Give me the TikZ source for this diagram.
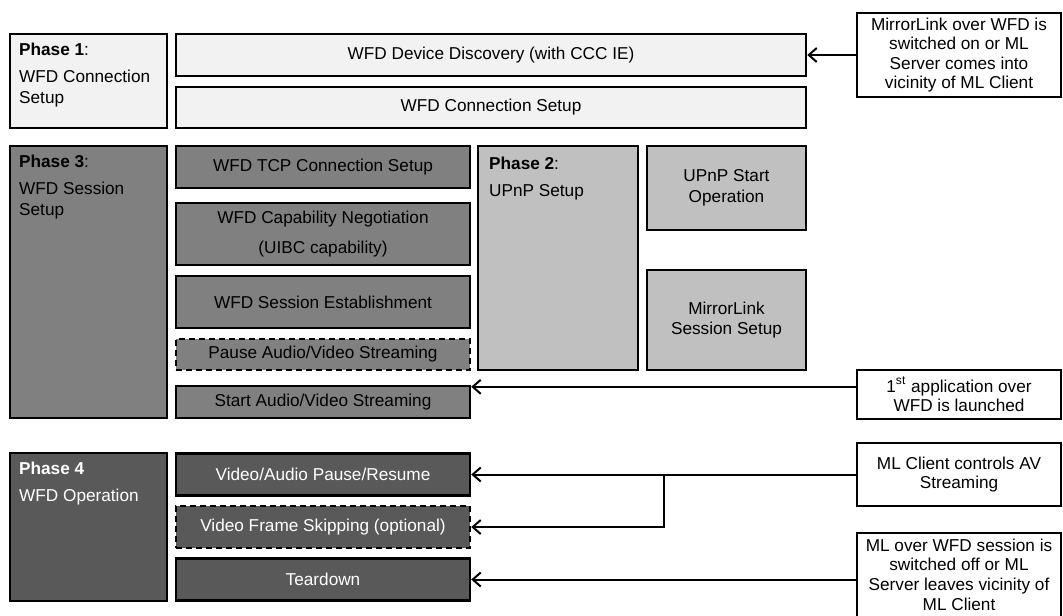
\documentclass[tikz,border=0pt]{standalone}
\usepackage{fontspec}
\setmainfont{Liberation Sans}
\usetikzlibrary{arrows.meta}
\definecolor{phaseone}{HTML}{F2F2F2}
\definecolor{phasetwo}{HTML}{C0C0C0}
\definecolor{phasethree}{HTML}{808080}
\definecolor{phasefour}{HTML}{595959}

\begin{document}
\begin{tikzpicture}[x=0.5pt, y=-0.5pt, font=\fontsize{8.6}{10.4}\selectfont,
  phase/.style={draw, line width=1.2pt, minimum width=78.5pt},
  phasetext/.style={anchor=north west, align=left, inner sep=5pt},
  task/.style={draw, line width=1.2pt, align=center, minimum width=147pt, minimum height=21pt, inner sep=1pt},
  optional/.style={dash pattern=on 3pt off 2pt},
  event/.style={draw, line width=1pt, align=center, minimum width=102pt, inner sep=1pt, fill=white, font=\fontsize{8.6}{9.8}\selectfont},
  trigger/.style={->, >={Straight Barb[length=4pt, width=7pt]}, line width=1pt},
]
\useasboundingbox (0, 0) rectangle (1063, 615);

% phase 1
\node[phase, fill=phaseone, minimum height=47pt, label={[phasetext]north west:{\textbf{Phase 1}:\\[3pt]WFD Connection\\Setup}}] (phase1) at (88.5, 81) {};
\node[task, fill=phaseone, minimum width=315pt] (discovery) at (491, 55) {WFD Device Discovery (with CCC IE)};
\node[task, fill=phaseone, minimum width=315pt, minimum height=20.5pt] (connection) at (491, 107.5) {WFD Connection Setup};

% phase 3
\node[phase, fill=phasethree, minimum height=136pt, label={[phasetext]north west:{\textbf{Phase 3}:\\[3pt]WFD Session\\Setup}}] (phase3) at (88.5, 282) {};
\node[task, fill=phasethree] (tcp) at (323, 167) {WFD TCP Connection Setup};
\node[task, fill=phasethree, minimum height=31pt] (capability) at (323, 234) {WFD Capability Negotiation\\[5pt](UIBC capability)};
\node[task, fill=phasethree, minimum height=26pt] (session) at (323, 302) {WFD Session Establishment};
\node[task, optional, fill=phasethree, minimum height=15.5pt] (pause) at (323, 354.5) {Pause Audio/Video Streaming};
\node[task, fill=phasethree, minimum height=16pt] (start) at (323, 402) {Start Audio/Video Streaming};

% phase 2
\node[phase, fill=phasetwo, minimum width=80pt, minimum height=112pt, label={[phasetext, inner sep=6pt]north west:{\textbf{Phase 2}:\\[3pt]UPnP Setup}}] (phase2) at (558, 258) {};
\node[task, fill=phasetwo, minimum width=79.5pt, minimum height=42pt] (upnp) at (726.5, 188) {UPnP Start\\Operation};
\node[task, fill=phasetwo, minimum width=79.5pt, minimum height=50pt] (mlsession) at (726.5, 320) {MirrorLink\\Session Setup};

% phase 4
\node[phase, fill=phasefour, minimum height=74pt, label={[phasetext, text=white]north west:{\textbf{Phase 4}\\[3pt]WFD Operation}}] (phase4) at (88.5, 527) {};
\node[task, fill=phasefour, text=white] (avpause) at (323, 474.5) {Video/Audio Pause/Resume};
\node[task, optional, fill=phasefour, text=white] (skipping) at (323, 527) {Video Frame Skipping (optional)};
\node[task, fill=phasefour, text=white] (teardown) at (323, 579.5) {Teardown};

% triggers
\node[event, minimum height=42pt] (switchon) at (959, 55) {MirrorLink over WFD is\\switched on or ML\\Server comes into\\vicinity of ML Client};
\node[event, minimum height=24.5pt] (launch) at (959, 394.5) {1\textsuperscript{st} application over\\WFD is launched};
\node[event, minimum height=31.5pt] (avcontrol) at (959, 474.5) {ML Client controls AV\\Streaming};
\node[event, minimum height=42pt] (switchoff) at (959, 574.5) {ML over WFD session is\\switched off or ML\\Server leaves vicinity of\\ML Client};

\coordinate (hook) at ([yshift=-1pt]start.north east);
\path (avcontrol.west) -- coordinate[pos=0.5] (split) (avpause.east);

\draw[trigger] (switchon) -- (discovery);
\draw[trigger] (launch.west |- hook) -- (hook);
\draw[trigger] (avcontrol) -- (avpause);
\draw[trigger] (split) |- (skipping.east);
\draw[trigger] (teardown.east -| switchoff.west) -- (teardown.east);
\end{tikzpicture}
\end{document}
